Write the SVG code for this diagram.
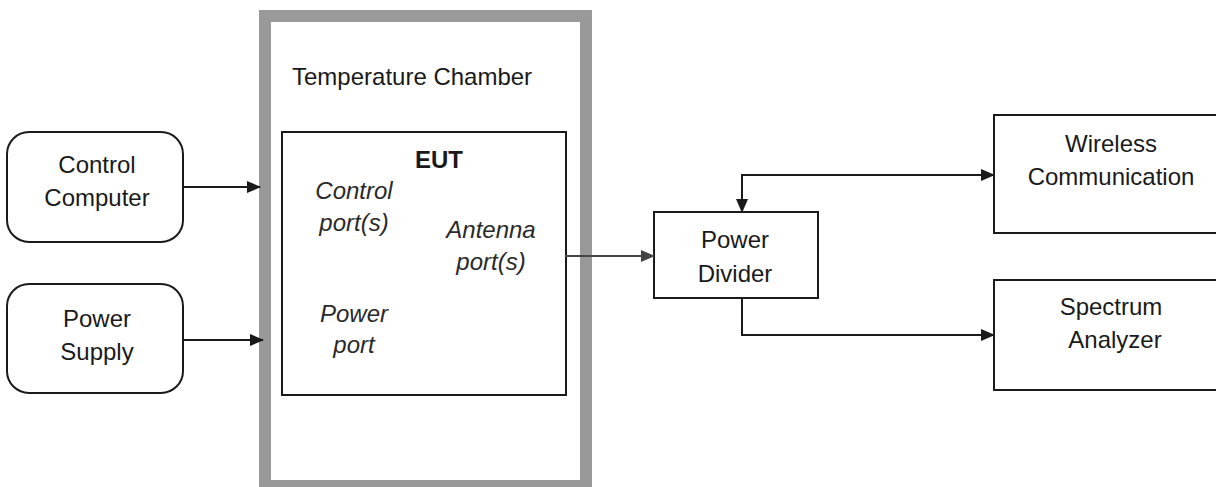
<svg xmlns="http://www.w3.org/2000/svg" width="1216" height="487" viewBox="0 0 1216 487">
<style>
  text { font-family: "Liberation Sans", Arial, sans-serif; font-size: 24px; fill: #1a1a1a; }
  .c { text-anchor: middle; }
  .it { font-style: italic; fill: #2a2a2a; }
  .b { font-weight: bold; }
  .box { fill: #fff; stroke: #1a1a1a; stroke-width: 2; }
  .wire { fill: none; stroke: #1a1a1a; stroke-width: 2; }
  .ant { fill: none; stroke: #444; stroke-width: 2; }
</style>
<defs>
  <marker id="ah" markerWidth="14" markerHeight="12" refX="13" refY="6" orient="auto" markerUnits="userSpaceOnUse">
    <path d="M0,0 L14,6 L0,12 Z" fill="#1a1a1a"/>
  </marker>
  <marker id="ahg" markerWidth="14" markerHeight="12" refX="13" refY="6" orient="auto" markerUnits="userSpaceOnUse">
    <path d="M0,0 L14,6 L0,12 Z" fill="#444"/>
  </marker>
</defs>
<rect width="1216" height="487" fill="#fff"/>

<g id="temperature-chamber">
  <rect x="265" y="16" width="321" height="470" fill="#fff" stroke="#999" stroke-width="12"/>
  <text x="292" y="85">Temperature Chamber</text>
</g>

<g id="eut">
  <rect class="box" x="282" y="132" width="284" height="263"/>
  <text class="c b" x="439" y="168">EUT</text>
  <text class="c it" x="354" y="199">Control</text>
  <text class="c it" x="354" y="231">port(s)</text>
  <text class="c it" x="491" y="238">Antenna</text>
  <text class="c it" x="491" y="270">port(s)</text>
  <text class="c it" x="354" y="322">Power</text>
  <text class="c it" x="354" y="353">port</text>
</g>

<g id="control-computer">
  <rect class="box" x="7" y="132" width="176" height="110" rx="22"/>
  <text class="c" x="97" y="173">Control</text>
  <text class="c" x="97" y="206">Computer</text>
</g>

<g id="power-supply">
  <rect class="box" x="7" y="284" width="176" height="109" rx="22"/>
  <text class="c" x="97" y="327">Power</text>
  <text class="c" x="97" y="360">Supply</text>
</g>

<g id="power-divider">
  <rect class="box" x="654" y="212" width="164" height="86"/>
  <text class="c" x="735" y="248">Power</text>
  <text class="c" x="735" y="282">Divider</text>
</g>

<g id="wireless-communication">
  <rect class="box" x="994" y="115" width="226" height="118"/>
  <text class="c" x="1111" y="152">Wireless</text>
  <text class="c" x="1111" y="185">Communication</text>
</g>

<g id="spectrum-analyzer">
  <rect class="box" x="994" y="280" width="226" height="110"/>
  <text class="c" x="1111" y="315">Spectrum</text>
  <text class="c" x="1115" y="348">Analyzer</text>
</g>

<g id="connectors">
  <line class="wire" x1="183" y1="187" x2="260" y2="187" marker-end="url(#ah)"/>
  <line class="wire" x1="183" y1="340" x2="263" y2="340" marker-end="url(#ah)"/>
  <line class="ant" x1="565" y1="256" x2="654" y2="256" marker-end="url(#ahg)"/>
  <polyline class="wire" points="742,175 994,175" marker-end="url(#ah)"/>
  <polyline class="wire" points="742,174 742,212" marker-end="url(#ah)"/>
  <polyline class="wire" points="742,298 742,335 994,335" marker-end="url(#ah)"/>
</g>
</svg>
